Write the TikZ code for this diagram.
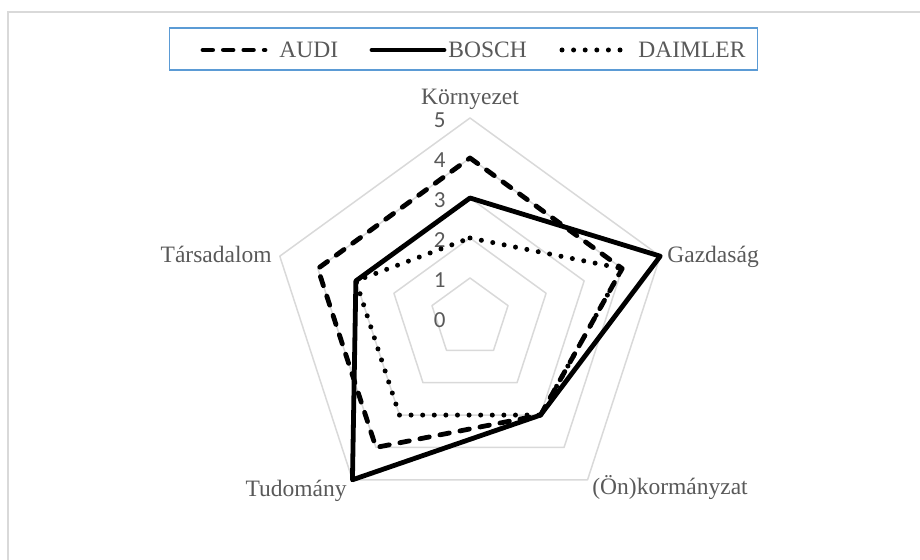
\documentclass[tikz,border=0pt]{standalone}
\usepackage{fontspec}
\setmainfont{Liberation Serif}
\newfontfamily\numfont{Carlito}
\usetikzlibrary{calc}
\definecolor{txt}{HTML}{595959}
\definecolor{gridc}{HTML}{D9D9D9}
\definecolor{legborder}{HTML}{5B9BD5}
\begin{document}
\begin{tikzpicture}[x=0.5pt,y=0.5pt,
  gridline/.style={draw=gridc,line width=0.75pt,line join=round},
  series/.style={line width=2.4pt,line join=round,line cap=round},
  audi/.style={series,dash pattern=on 4.8pt off 5.4pt},
  bosch/.style={series},
  daimler/.style={series,line width=2.5pt,dash pattern=on 0pt off 5.8pt},
  axlabel/.style={font=\fontsize{11.75}{14}\selectfont,text=txt,inner sep=0pt},
  numlabel/.style={font=\numfont\fontsize{11.5}{13}\selectfont,text=txt,inner sep=0pt,anchor=base east},
  legendbox/.style={draw=legborder,line width=0.75pt,inner sep=0pt,minimum width=294pt,minimum height=21pt}
]
\useasboundingbox (0,0) rectangle (920,560);
% outer frame (top and left edges visible)
\coordinate (fr1) at (8,0);
\coordinate (fr2) at (8,548);
\coordinate (fr3) at (920,548);
\draw[gridc,line width=1pt] (fr1) -- (fr2) -- (fr3);
% radar geometry
\coordinate (C) at (470,242);
\foreach \a/\n in {90/K,18/G,-54/O,-126/T,162/S}{
  \foreach \r in {0,...,5}{
    \coordinate (\n\r) at ($(C)+(\a:{40*\r})$);
  }
}
\foreach \r in {1,...,5}{
  \draw[gridline] (K\r) -- (G\r) -- (O\r) -- (T\r) -- (S\r) -- cycle;
}
% value labels
\foreach \r in {0,...,5}{
  \node[numlabel] (n\r) at (446,{232+40*\r}) {\r};
}
% series
\draw[audi] (K4) -- (G4) -- (O3) -- (T4) -- (S4) -- cycle;
\draw[bosch] (K3) -- (G5) -- (O3) -- (T5) -- (S3) -- cycle;
\draw[daimler] (K2) -- (G4) -- (O3) -- (T3) -- (S3) -- cycle;
% axis labels
\node[axlabel,anchor=base] (lK) at (470,455) {Környezet};
\node[axlabel,anchor=base west] (lG) at (667,297) {Gazdaság};
\node[axlabel,anchor=base west] (lO) at (592,65) {(Ön)kormányzat};
\node[axlabel,anchor=base east] (lT) at (347,63) {Tudomány};
\node[axlabel,anchor=base east] (lS) at (272,297) {Társadalom};
% legend
\node[legendbox] (leg) at (463.5,511) {};
\coordinate (la1) at (203,510);
\coordinate (la2) at (265,510);
\draw[audi] (la1) -- (la2);
\node[axlabel,anchor=base west] (ta) at (279,502.5) {AUDI};
\coordinate (lb1) at (372,510);
\coordinate (lb2) at (444,510);
\draw[bosch] (lb1) -- (lb2);
\node[axlabel,anchor=base west] (tb) at (448,502.5) {BOSCH};
\coordinate (lc1) at (562,510);
\coordinate (lc2) at (624,510);
\draw[daimler] (lc1) -- (lc2);
\node[axlabel,anchor=base west] (tc) at (638,502.5) {DAIMLER};
\end{tikzpicture}
\end{document}
